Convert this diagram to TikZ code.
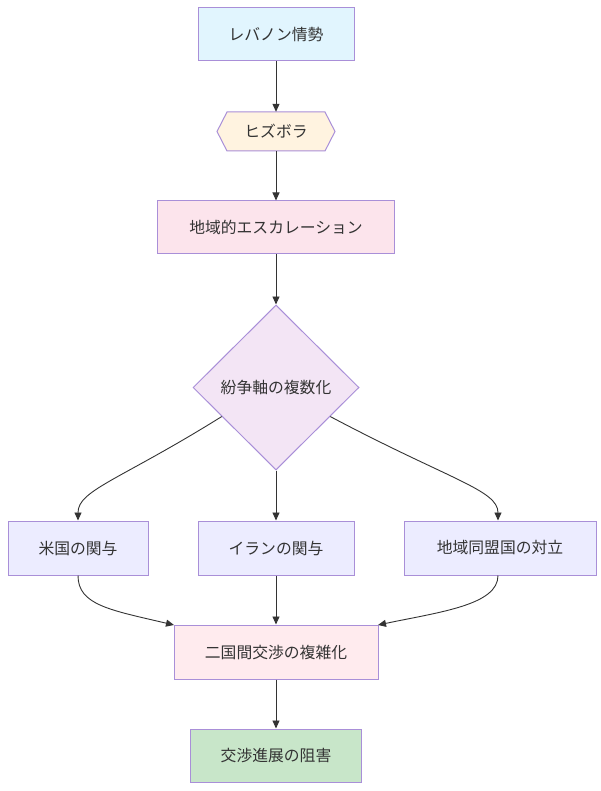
\documentclass[tikz,border=0pt]{standalone}
\usepackage{fontspec}
\setmainfont{Noto Sans CJK JP}
\usetikzlibrary{shapes.geometric,arrows.meta,calc}
\definecolor{bord}{HTML}{A98FD8}
\definecolor{txt}{HTML}{333333}
\definecolor{fblue}{HTML}{E1F5FE}
\definecolor{forange}{HTML}{FFF3E0}
\definecolor{fpink}{HTML}{FCE4EC}
\definecolor{fpurple}{HTML}{F3E5F5}
\definecolor{fdef}{HTML}{ECECFF}
\definecolor{fred}{HTML}{FFEBEE}
\definecolor{fgreen}{HTML}{C8E6C9}
\tikzset{
  lbl/.style={text=txt, font=\fontsize{15.8}{18}\selectfont},
  box/.style={lbl, draw=bord, line width=1pt, inner sep=0pt},
  conn/.style={draw=txt, line width=0.9pt, -{Triangle[length=8pt,width=7pt]}},
}
\begin{document}
\begin{tikzpicture}[x=1pt,y=-1pt]
\useasboundingbox (0,0) rectangle (600,791);
\node[box, fill=fblue, minimum width=156pt, minimum height=53pt] (a) at (276,34.5) {レバノン情勢};
\node[inner sep=0pt, minimum width=118pt, minimum height=39pt] (b) at (276,131.5) {};
\filldraw[draw=bord, fill=forange, line width=1pt] (217,131.5) -- (227,112) -- (325,112) -- (335,131.5) -- (325,151) -- (227,151) -- cycle;
\node[lbl] at (b) {ヒズボラ};
\node[box, fill=fpink, minimum width=237pt, minimum height=53pt] (c) at (276,227.5) {地域的エスカレーション};
\node[box, diamond, aspect=1, fill=fpurple, minimum width=166pt, minimum height=165pt] (d) at (276,387.5) {紛争軸の複数化};
\node[box, fill=fdef, minimum width=140pt, minimum height=54pt] (e1) at (78,548) {米国の関与};
\node[box, fill=fdef, minimum width=156pt, minimum height=54pt] (e2) at (276,548) {イランの関与};
\node[box, fill=fdef, minimum width=192pt, minimum height=54pt] (e3) at (500,548) {地域同盟国の対立};
\node[box, fill=fred, minimum width=204pt, minimum height=54pt] (f) at (276,652) {二国間交渉の複雑化};
\node[box, fill=fgreen, minimum width=171pt, minimum height=53pt] (g) at (276,755.5) {交渉進展の阻害};

\coordinate (dl) at ($(d.west)!0.35!(d.south)$);
\coordinate (dr) at ($(d.east)!0.35!(d.south)$);
\coordinate (fl) at (174,625);
\coordinate (fr) at (378,625);

\draw[conn] (a) -- (b.north);
\draw[conn] (b.south) -- (c.north);
\draw[conn] (c.south) -- (d.north);
\draw[conn] (dl) .. controls (120,480) and (78,490) .. (e1.north);
\draw[conn] (d.south) -- (e2.north);
\draw[conn] (dr) .. controls (450,480) and (498,490) .. (e3.north -| 498,0);
\draw[conn] (e1.south) .. controls (78,605) and (110,610) .. (fl);
\draw[conn] (e2.south) -- (f.north);
\draw[conn] (e3.south -| 498,0) .. controls (498,605) and (440,612) .. (fr);
\draw[conn] (f.south) -- (g.north);
\end{tikzpicture}
\end{document}
